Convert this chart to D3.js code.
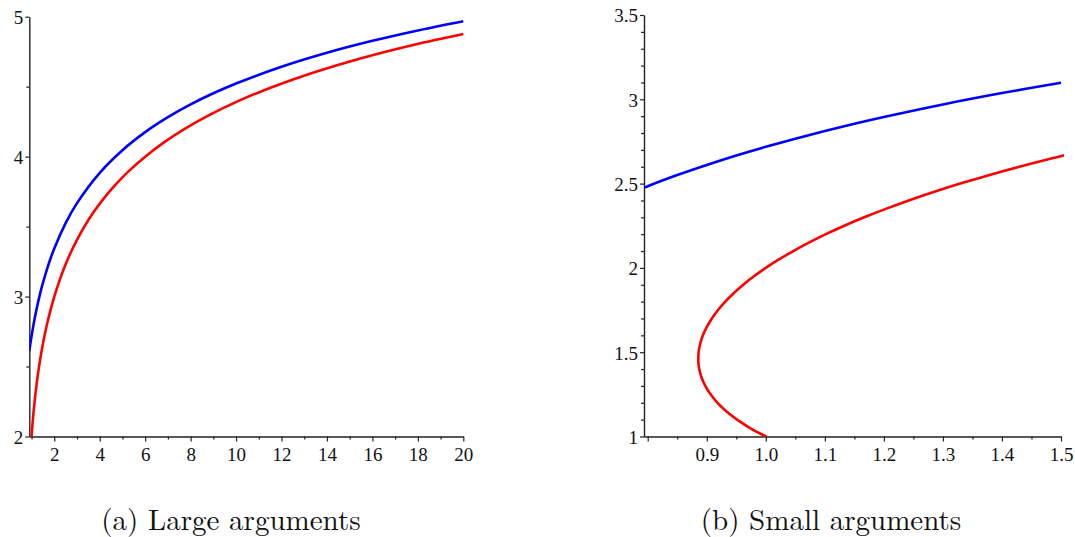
<!DOCTYPE html>
<html>
<head>
<meta charset="utf-8">
<script src="https://cdn.jsdelivr.net/npm/d3@7"></script>
<style>
  html, body { margin: 0; padding: 0; background: #fff; }
  svg { display: block; }
</style>
</head>
<body>
<svg id="chart" width="1075" height="537"></svg>
<script>
// ---------- Panel (a): large arguments ----------
const largeBlueX = [0.9, 0.95, 1, 1.1, 1.2, 1.25, 1.3, 1.4, 1.5, 1.75, 2, 2.5, 3, 4, 5, 6, 7, 8, 9, 10, 12, 14, 16, 18, 20];
const largeBlueY = [2.6105, 2.6665, 2.7183, 2.812, 2.8949, 2.933, 2.9694, 3.0368, 3.0983, 3.232, 3.3443, 3.5251, 3.6676, 3.8841, 4.0461, 4.1752, 4.282, 4.3732, 4.4526, 4.5227, 4.6425, 4.7422, 4.8275, 4.902, 4.968];

const largeRedX = [1, 1.0222, 1.0465, 1.1018, 1.1667, 1.2422, 1.3293, 1.4296, 1.5447, 1.6765, 1.8274, 2, 2.1976, 2.424, 2.6834, 2.9812, 3.3234, 3.717, 4.1707, 4.6942, 5.2993, 6, 6.8126, 7.7567, 8.8553, 10.136, 11.632, 13.381, 15.431, 17.838, 20];
const largeRedY = [2, 2.05, 2.1, 2.2, 2.3, 2.4, 2.5, 2.6, 2.7, 2.8, 2.9, 3.0, 3.1, 3.2, 3.3, 3.4, 3.5, 3.6, 3.7, 3.8, 3.9, 4.0, 4.1, 4.2, 4.3, 4.4, 4.5, 4.6, 4.7, 4.8, 4.877];

const largeXMajorTicks = [2, 4, 6, 8, 10, 12, 14, 16, 18, 20];
const largeXMinorTicks = [1, 3, 5, 7, 9, 11, 13, 15, 17, 19];
const largeYMajorTicks = [2, 3, 4, 5];
const largeYMinorTicks = [2.5, 3.5, 4.5];
const largeXTickLabels = ["2", "4", "6", "8", "10", "12", "14", "16", "18", "20"];
const largeYTickLabels = ["2", "3", "4", "5"];

// ---------- Panel (b): small arguments ----------
const smallBlueX = [0.7937, 0.8, 0.85, 0.9, 0.95, 1.0, 1.05, 1.1, 1.15, 1.2, 1.3, 1.4, 1.5];
const smallBlueY = [2.476, 2.4848, 2.5505, 2.6105, 2.6665, 2.7183, 2.7667, 2.812, 2.8547, 2.8949, 2.9694, 3.0368, 3.0983];

const smallRedX = [1.0059, 1.0, 0.9735, 0.95135, 0.93304, 0.91817, 0.9064, 0.89747, 0.89115, 0.88726, 0.88566, 0.88623, 0.88887, 0.89352, 0.90012, 0.90864, 0.91906, 0.93138, 0.94561, 0.96177, 0.97988, 1.0, 1.02218, 1.04649, 1.073, 1.1018, 1.133, 1.16671, 1.2031, 1.24217, 1.2842, 1.32934, 1.3777, 1.42962, 1.4852, 1.5085];
const smallRedY = [0.99, 1.0, 1.05, 1.1, 1.15, 1.2, 1.25, 1.3, 1.35, 1.4, 1.45, 1.5, 1.55, 1.6, 1.65, 1.7, 1.75, 1.8, 1.85, 1.9, 1.95, 2.0, 2.05, 2.1, 2.15, 2.2, 2.25, 2.3, 2.35, 2.4, 2.45, 2.5, 2.55, 2.6, 2.65, 2.67];

const smallXMajorTicks = [0.8, 0.9, 1.0, 1.1, 1.2, 1.3, 1.4, 1.5];
const smallXMinorTicks = [0.85, 0.95, 1.05, 1.15, 1.25, 1.35, 1.45];
const smallYMajorTicks = [1, 1.5, 2, 2.5, 3, 3.5];
const smallYMinorTicks = [1.1, 1.2, 1.3, 1.4, 1.6, 1.7, 1.8, 1.9, 2.1, 2.2, 2.3, 2.4, 2.6, 2.7, 2.8, 2.9, 3.1, 3.2, 3.3, 3.4];
const smallXTickLabels = ["", "0.9", "1.0", "1.1", "1.2", "1.3", "1.4", "1.5"];
const smallYTickLabels = ["1", "1.5", "2", "2.5", "3", "3.5"];

const captions = ["(a) Large arguments", "(b) Small arguments"];

// ---------- drawing ----------
const svg = d3.select("#chart");
svg.append("rect").attr("width", 1075).attr("height", 537).attr("fill", "#fff");

const AXIS_COLOR = "#222";
const TICK_FONT = '"Liberation Serif", "Times New Roman", Tinos, monospace';
const CAPTION_FONT = '"Latin Modern Roman", "Liberation Serif", monospace';

function zip(xs, ys) { return xs.map((x, i) => [x, ys[i]]); }

function panel(cfg) {
  const g = svg.append("g");
  const x = d3.scaleLinear().domain(cfg.xDomain).range(cfg.xRange);
  const y = d3.scaleLinear().domain(cfg.yDomain).range(cfg.yRange);

  const clipId = "clip-" + cfg.id;
  svg.append("defs").append("clipPath").attr("id", clipId)
    .append("rect")
    .attr("x", cfg.xRange[0]).attr("y", cfg.yRange[1] - 2)
    .attr("width", cfg.xRange[1] - cfg.xRange[0] + 3)
    .attr("height", cfg.yRange[0] - cfg.yRange[1] + 2);

  // minor ticks
  g.append("g").attr("transform", `translate(0,${cfg.yRange[0]})`)
    .call(d3.axisBottom(x).tickValues(cfg.xMinor).tickSize(3).tickFormat(""))
    .call(s => s.select(".domain").remove());
  g.append("g").attr("transform", `translate(${cfg.xRange[0]},0)`)
    .call(d3.axisLeft(y).tickValues(cfg.yMinor).tickSize(3).tickFormat(""))
    .call(s => s.select(".domain").remove());

  // major axes
  g.append("g").attr("transform", `translate(0,${cfg.yRange[0]})`)
    .call(d3.axisBottom(x).tickValues(cfg.xMajor).tickSize(5).tickSizeOuter(0).tickPadding(6)
      .tickFormat((d, i) => cfg.xLabels[i]));
  const yAxis = g.append("g").attr("transform", `translate(${cfg.xRange[0]},0)`)
    .call(d3.axisLeft(y).tickValues(cfg.yMajor).tickSize(4).tickSizeOuter(0).tickPadding(2)
      .tickFormat((d, i) => cfg.yLabels[i]));

  g.selectAll(".tick line").attr("stroke", AXIS_COLOR).attr("stroke-width", 1.2);
  g.selectAll(".domain").attr("stroke", AXIS_COLOR).attr("stroke-width", 1.4);
  g.selectAll(".tick text")
    .style("font-family", TICK_FONT).style("font-size", "19px").attr("fill", "#111");
  yAxis.selectAll(".tick text").attr("dy", "0.36em");

  const line = d3.line().x(d => x(d[0])).y(d => y(d[1])).curve(d3.curveCatmullRom.alpha(0.5));
  const plot = g.append("g").attr("clip-path", `url(#${clipId})`);
  plot.append("path").datum(cfg.red).attr("d", line)
    .attr("fill", "none").attr("stroke", "#ff0000").attr("stroke-width", 2.6);
  plot.append("path").datum(cfg.blue).attr("d", line)
    .attr("fill", "none").attr("stroke", "#0000ff").attr("stroke-width", 2.6);

  svg.append("text").attr("x", cfg.captionX).attr("y", 530)
    .attr("text-anchor", "middle")
    .style("font-family", CAPTION_FONT).style("font-size", "29px")
    .attr("fill", "#111").text(cfg.caption);
}

panel({
  id: "a",
  xDomain: [0.9, 20], xRange: [29.3, 463.3],
  yDomain: [2, 5], yRange: [436.5, 16.7],
  xMajor: largeXMajorTicks, xMinor: largeXMinorTicks, xLabels: largeXTickLabels,
  yMajor: largeYMajorTicks, yMinor: largeYMinorTicks, yLabels: largeYTickLabels,
  blue: zip(largeBlueX, largeBlueY), red: zip(largeRedX, largeRedY),
  caption: captions[0], captionX: 231
});

panel({
  id: "b",
  xDomain: [0.7937, 1.5], xRange: [644, 1061],
  yDomain: [1, 3.5], yRange: [436.5, 15],
  xMajor: smallXMajorTicks, xMinor: smallXMinorTicks, xLabels: smallXTickLabels,
  yMajor: smallYMajorTicks, yMinor: smallYMinorTicks, yLabels: smallYTickLabels,
  blue: zip(smallBlueX, smallBlueY), red: zip(smallRedX, smallRedY),
  caption: captions[1], captionX: 831
});
</script>
</body>
</html>
